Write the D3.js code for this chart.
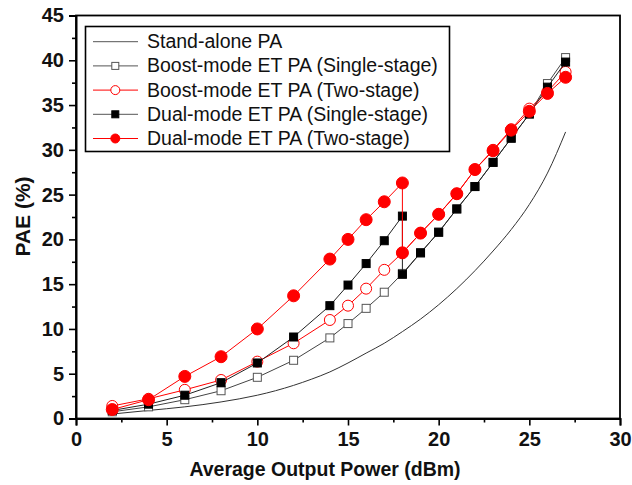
<!DOCTYPE html>
<html><head><meta charset="utf-8">
<script src="https://cdn.jsdelivr.net/npm/d3@7"></script>
<style>
body{margin:0;background:#fff;}
svg{display:block;font-family:"Liberation Sans",Arial,sans-serif;}
</style></head>
<body><svg id="c" width="632" height="485"></svg>
<script>
// ---- data ----
const seriesNames = ["Stand-alone PA","Boost-mode ET PA (Single-stage)","Boost-mode ET PA (Two-stage)","Dual-mode ET PA (Single-stage)","Dual-mode ET PA (Two-stage)"];
const standX = [2,4,6,8,10,11,12,13,14,15,16,17,18,19,20,21,22,23,24,25,26,27];
const standY = [0.5,0.9,1.3,1.85,2.6,3.1,3.7,4.4,5.2,6.2,7.3,8.4,9.7,11.1,12.7,14.5,16.5,18.7,21.1,23.9,27.4,32.0];
const boostX = [2,4,6,8,10,12,14,15,16,17,18,19,20,21,22,23,24,25,26,27];
const boostSingleY = [0.75,1.3,2.1,3.1,4.6,6.5,9.0,10.6,12.3,14.1,16.2,18.5,20.8,23.4,25.9,28.6,31.3,34.0,37.4,40.3];
const boostTwoY = [1.4,2.2,3.2,4.3,6.35,8.4,11.0,12.6,14.5,16.6,18.5,20.7,22.8,25.1,27.8,30.0,32.3,34.6,36.5,38.7];
const dualX = [2,4,6,8,10,12,14,15,16,17,18,18,19,20,21,22,23,24,25,26,27];
const dualSingleY = [0.9,1.6,2.6,4.0,6.2,9.1,12.6,14.9,17.3,19.85,22.6,16.1,18.5,20.8,23.4,25.9,28.6,31.3,34.0,37.0,39.8];
const dualTwoY = [1.0,2.1,4.7,6.9,10.0,13.7,17.8,20.0,22.2,24.2,26.3,18.5,20.7,22.8,25.1,27.8,29.9,32.2,34.3,36.3,38.1];
const xTicks = [0,5,10,15,20,25,30];
const yTicks = [0,5,10,15,20,25,30,35,40,45];
const xTitle = "Average Output Power (dBm)";
const yTitle = "PAE (%)";

// ---- layout ----
const svg = d3.select("#c");
const L=76, R=620, T=15.5, B=418.5;
const x = d3.scaleLinear().domain([0,30]).range([L,R]);
const y = d3.scaleLinear().domain([0,45]).range([B,T]);

// frame
svg.append("rect").attr("x",L).attr("y",T).attr("width",R-L).attr("height",B-T)
  .attr("fill","none").attr("stroke","#000").attr("stroke-width",1.8);

// axes
const xAxis = d3.axisBottom(x).tickValues(xTicks).tickSize(7).tickPadding(6).tickFormat(d3.format("d"));
svg.append("g").attr("transform",`translate(0,${B})`).call(xAxis);
const xMinor = d3.axisBottom(x).tickValues(d3.range(2.5,30,5)).tickSize(4).tickFormat("");
svg.append("g").attr("transform",`translate(0,${B})`).call(xMinor).select(".domain").remove();
const yAxis = d3.axisLeft(y).tickValues(yTicks).tickSize(7).tickPadding(5).tickFormat(d3.format("d"));
svg.append("g").attr("transform",`translate(${L},0)`).call(yAxis);
const yMinor = d3.axisLeft(y).tickValues(d3.range(2.5,45,5)).tickSize(4).tickFormat("");
svg.append("g").attr("transform",`translate(${L},0)`).call(yMinor).select(".domain").remove();
svg.selectAll(".domain").attr("stroke-width",2);
svg.selectAll(".tick line").attr("stroke-width",1.6);
svg.selectAll(".tick text").attr("font-family","Liberation Sans, Arial, sans-serif")
  .attr("font-size",20).attr("font-weight","bold").attr("fill","#111");

svg.append("text").attr("x",325).attr("y",476).attr("text-anchor","middle")
  .attr("font-size",19.5).attr("font-weight","bold").attr("fill","#111").text(xTitle);
svg.append("text").attr("transform",`translate(30,${216.5}) rotate(-90)`).attr("text-anchor","middle")
  .attr("font-size",21).attr("font-weight","bold").attr("fill","#111").text(yTitle);

// ---- series ----
const plotG = svg.append("g");
function series(xs, ys, color, marker, filled, r) {
  const pts = xs.map((d,i)=>[d,ys[i]]);
  plotG.append("path").datum(pts).attr("fill","none").attr("stroke",color).attr("stroke-width",1)
    .attr("d",d3.line().x(d=>x(d[0])).y(d=>y(d[1])));
  const g = plotG.append("g");
  pts.forEach(p=>{
    if(marker==="square"){
      g.append("rect").attr("x",x(p[0])-r).attr("y",y(p[1])-r).attr("width",2*r).attr("height",2*r)
        .attr("fill",filled?"#000":"#fff").attr("stroke",filled?"#000":"#555").attr("stroke-width",1);
    } else {
      g.append("circle").attr("cx",x(p[0])).attr("cy",y(p[1])).attr("r",r)
        .attr("fill",filled?"#ff0000":"#fff").attr("stroke","#ff0000").attr("stroke-width",1);
    }
  });
}
// stand-alone smooth curve
plotG.append("path").datum(standX.map((d,i)=>[d,standY[i]])).attr("fill","none")
  .attr("stroke","#333").attr("stroke-width",1)
  .attr("d",d3.line().curve(d3.curveMonotoneX).x(d=>x(d[0])).y(d=>y(d[1])));
series(boostX, boostSingleY, "#444", "square", false, 4);
series(boostX, boostTwoY, "#ff0000", "circle", false, 5.5);
series(dualX, dualSingleY, "#222", "square", true, 4);
series(dualX, dualTwoY, "#ff0000", "circle", true, 6);

// ---- legend ----
const lg = svg.append("g");
lg.append("rect").attr("x",85.5).attr("y",26.5).attr("width",364).attr("height",125)
  .attr("fill","#fff").attr("stroke","#000").attr("stroke-width",1.6);
const legStyle = [
  {c:"#555", m:null},
  {c:"#555", m:"square", f:false},
  {c:"#ff0000", m:"circle", f:false},
  {c:"#555", m:"square", f:true},
  {c:"#ff0000", m:"circle", f:true}
];
seriesNames.forEach((n,i)=>{
  const yy = 41.7 + i*24.2;
  const s = legStyle[i];
  lg.append("line").attr("x1",93).attr("x2",138).attr("y1",yy).attr("y2",yy).attr("stroke",s.c).attr("stroke-width",1);
  if(s.m==="square"){
    lg.append("rect").attr("x",115.3-3.5).attr("y",yy-3.5).attr("width",7).attr("height",7)
      .attr("fill",s.f?"#000":"#fff").attr("stroke",s.f?"#000":"#555");
  } else if(s.m==="circle"){
    lg.append("circle").attr("cx",115.3).attr("cy",yy).attr("r",4.5)
      .attr("fill",s.f?"#ff0000":"#fff").attr("stroke","#ff0000");
  }
  lg.append("text").attr("x",147).attr("y",yy+6.5).attr("font-size",19.5).attr("fill","#111").text(n);
});
</script></body></html>
